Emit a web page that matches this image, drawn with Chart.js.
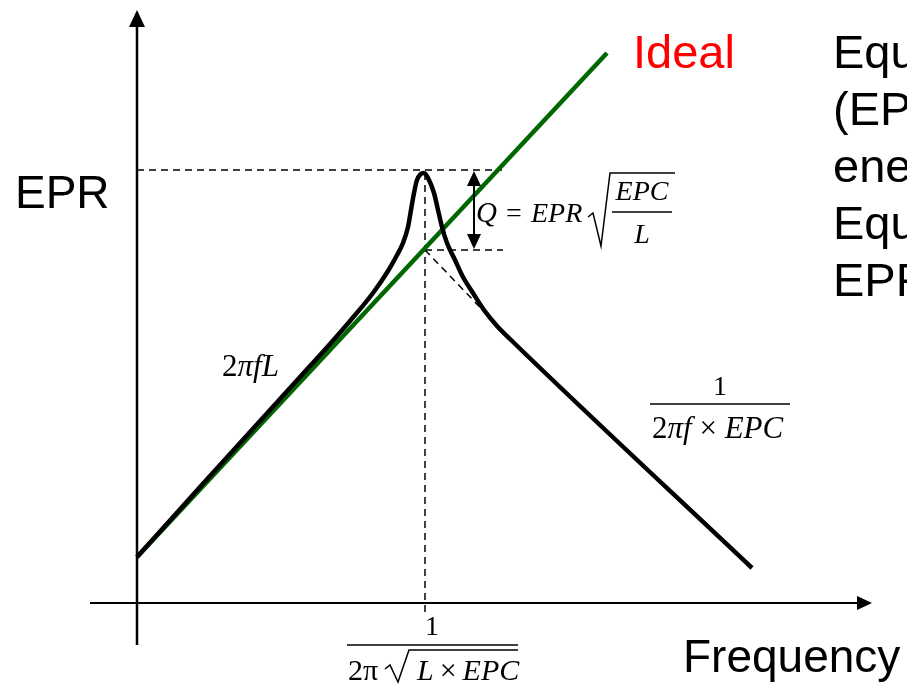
<!DOCTYPE html>
<html>
<head>
<meta charset="utf-8">
<script src="https://cdn.jsdelivr.net/npm/chart.js@4/dist/chart.umd.min.js"></script>
<style>
  html, body { margin: 0; padding: 0; background: #fff; }
  #wrap { width: 907px; height: 684px; position: relative; }
</style>
</head>
<body>
<div id="wrap"><canvas id="chart"></canvas></div>
<script>
// data units: origin sits where the Frequency and EPR axes cross
const freqRange = [-137, 770];
const eprRange = [-81, 603];

// real impedance curve with its resonance peak
const curveFreq = [0, 63, 123, 163, 193, 213, 236, 251, 259, 266, 271, 274, 277, 280, 287, 292, 297, 301, 305, 310, 318, 326, 336, 347, 360, 373, 615];
const curveEpr = [46, 116, 182, 226, 259, 282, 310, 332, 346, 360, 376, 393, 410, 423, 430, 423, 410, 393, 376, 360, 343, 326, 310, 293, 277, 264, 35];

// ideal inductive line (2πfL)
const idealFreq = [0, 470];
const idealEpr = [46, 550];

// resonance guides
const resFreq = 288;
const peakEpr = 433;
const crossEpr = 353;
const guideEnd = 366;
const capFreq = [288, 363];
const capEpr = [353, 275];

const toPoints = (xs, ys) => xs.map((x, i) => ({ x: x, y: ys[i] }));

const dashed = (pts) => ({
  data: pts,
  showLine: true,
  borderColor: "#000",
  borderWidth: 1.5,
  borderDash: [7, 5],
  pointRadius: 0,
  order: 2,
});

function drawRuns(ctx, x, y, parts, size) {
  let cx = x;
  parts.forEach(([text, italic]) => {
    ctx.font = (italic ? "italic " : "") + size + 'px "Liberation Serif"';
    ctx.fillText(text, cx, y);
    cx += ctx.measureText(text).width;
  });
}

function polyline(ctx, pts, X, Y) {
  ctx.beginPath();
  pts.forEach(([a, b], i) => {
    if (i === 0) ctx.moveTo(X(a), Y(b));
    else ctx.lineTo(X(a), Y(b));
  });
  ctx.stroke();
}

const overlay = {
  id: "overlay",
  afterDatasetsDraw(chart) {
    const ctx = chart.ctx;
    const X = (v) => chart.scales.x.getPixelForValue(v);
    const Y = (v) => chart.scales.y.getPixelForValue(v);
    ctx.save();
    ctx.fillStyle = "#000";
    ctx.strokeStyle = "#000";

    // EPR axis with arrow
    ctx.lineWidth = 2.5;
    polyline(ctx, [[0, -42], [0, 578]], X, Y);
    ctx.beginPath();
    ctx.moveTo(X(0), Y(593));
    ctx.lineTo(X(0) - 8, Y(576));
    ctx.lineTo(X(0) + 8, Y(576));
    ctx.closePath();
    ctx.fill();

    // Frequency axis with arrow
    ctx.lineWidth = 2;
    polyline(ctx, [[-47, 0], [722, 0]], X, Y);
    ctx.beginPath();
    ctx.moveTo(X(735), Y(0));
    ctx.lineTo(X(720), Y(0) - 7);
    ctx.lineTo(X(720), Y(0) + 7);
    ctx.closePath();
    ctx.fill();

    // Q double arrow between the peak and the ideal line
    const qx = X(337);
    ctx.lineWidth = 2;
    ctx.beginPath();
    ctx.moveTo(qx, Y(peakEpr) + 10);
    ctx.lineTo(qx, Y(crossEpr) - 10);
    ctx.stroke();
    ctx.beginPath();
    ctx.moveTo(qx, Y(peakEpr) + 1);
    ctx.lineTo(qx - 7, Y(peakEpr) + 16);
    ctx.lineTo(qx + 7, Y(peakEpr) + 16);
    ctx.closePath();
    ctx.fill();
    ctx.beginPath();
    ctx.moveTo(qx, Y(crossEpr) - 1);
    ctx.lineTo(qx - 7, Y(crossEpr) - 16);
    ctx.lineTo(qx + 7, Y(crossEpr) - 16);
    ctx.closePath();
    ctx.fill();

    ctx.textBaseline = "alphabetic";
    ctx.textAlign = "left";

    // sans-serif labels
    ctx.font = '46px "Liberation Sans"';
    ctx.fillText("EPR", X(-122), Y(395));
    ctx.fillText("Frequency", X(546), Y(-69));
    ctx.font = '47px "Liberation Sans"';
    ctx.fillStyle = "#ff0000";
    ctx.fillText("Ideal", X(496), Y(535));
    ctx.fillStyle = "#000";
    const notes = [
      "Equivalent Parallel Capacitance",
      "(EPC) stores",
      "energy",
      "Equivalent Parallel Resistance",
      "EPR dissipates",
    ];
    const noteBase = [535, 478, 421, 364, 307];
    notes.forEach((t, i) => ctx.fillText(t, X(696), Y(noteBase[i])));

    // 2πfL
    drawRuns(ctx, X(85), Y(227), [["2", false], ["πfL", true]], 31);

    // Q = EPR sqrt(EPC / L)
    ctx.font = 'italic 29px "Liberation Serif"';
    ctx.fillText("Q", X(339), Y(381));
    ctx.font = '28px "Liberation Serif"';
    ctx.fillText("=", X(369), Y(381));
    ctx.font = 'italic 28px "Liberation Serif"';
    ctx.fillText("EPR", X(394), Y(381));
    ctx.lineWidth = 1.5;
    polyline(ctx, [[451, 386], [456, 390], [464, 357], [473, 430], [538, 430]], X, Y);
    ctx.textAlign = "center";
    ctx.fillText("EPC", X(505), Y(403));
    ctx.fillText("L", X(505), Y(360));
    polyline(ctx, [[475, 391], [535, 391]], X, Y);

    // 1 / (2πf × EPC)
    ctx.font = '28px "Liberation Serif"';
    ctx.fillText("1", X(583), Y(208));
    polyline(ctx, [[513, 199], [653, 199]], X, Y);
    ctx.textAlign = "left";
    drawRuns(ctx, X(515), Y(165), [["2", false], ["πf", true], [" × ", false], ["EPC", true]], 31);

    // resonance frequency 1 / (2π sqrt(L × EPC))
    ctx.textAlign = "center";
    ctx.font = '28px "Liberation Serif"';
    ctx.fillText("1", X(295), Y(-32));
    polyline(ctx, [[210, -42], [381, -42]], X, Y);
    ctx.textAlign = "left";
    drawRuns(ctx, X(211), Y(-77), [["2π", false]], 30);
    polyline(ctx, [[248, -66], [253, -62], [261, -79], [272, -47], [381, -47]], X, Y);
    drawRuns(ctx, X(280), Y(-77), [["L", true], ["\u2009×\u2009", false], ["EPC", true]], 30);

    ctx.restore();
  },
};

new Chart(document.getElementById("chart"), {
  type: "scatter",
  data: {
    datasets: [
      {
        data: toPoints(curveFreq, curveEpr),
        showLine: true,
        borderColor: "#000",
        borderWidth: 4.5,
        borderJoinStyle: "round",
        cubicInterpolationMode: "monotone",
        pointRadius: 0,
        order: 0,
      },
      {
        data: toPoints(idealFreq, idealEpr),
        showLine: true,
        borderColor: "#006600",
        borderWidth: 4.5,
        pointRadius: 0,
        order: 1,
      },
      dashed([{ x: 0, y: peakEpr }, { x: guideEnd - 1, y: peakEpr }]),
      dashed([{ x: resFreq, y: crossEpr }, { x: guideEnd, y: crossEpr }]),
      dashed([{ x: resFreq, y: 430 }, { x: resFreq, y: -12 }]),
      dashed(toPoints(capFreq, capEpr)),
    ],
  },
  options: {
    responsive: true,
    maintainAspectRatio: false,
    animation: false,
    layout: { padding: 0 },
    scales: {
      x: { type: "linear", min: freqRange[0], max: freqRange[1], display: false },
      y: { type: "linear", min: eprRange[0], max: eprRange[1], display: false },
    },
    plugins: {
      legend: { display: false },
      tooltip: { enabled: false },
    },
  },
  plugins: [overlay],
});
</script>
</body>
</html>
